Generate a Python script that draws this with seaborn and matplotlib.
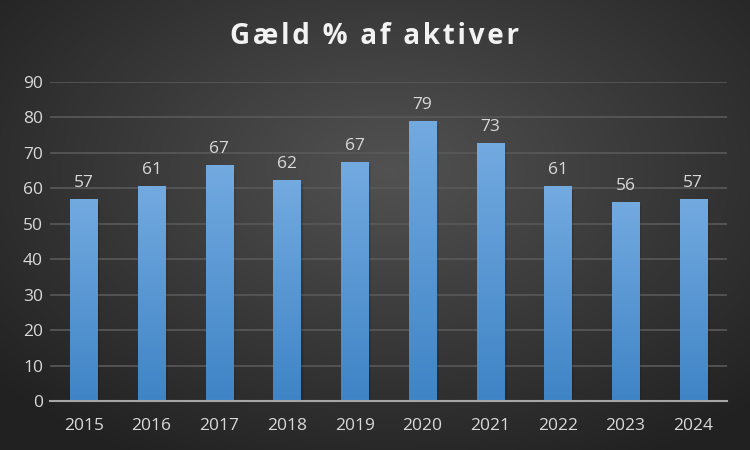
import numpy as np
import pandas as pd
import matplotlib
matplotlib.use("Agg")
import matplotlib.pyplot as plt
import seaborn as sns
from matplotlib.colors import LinearSegmentedColormap

# data
title = "Gæld % af aktiver"
years = ["2015", "2016", "2017", "2018", "2019", "2020", "2021", "2022", "2023", "2024"]
debt_pct = [57.0, 60.7, 66.6, 62.4, 67.4, 79.0, 72.8, 60.7, 56.2, 57.0]
df = pd.DataFrame({"year": years, "pct": debt_pct})

sns.set_theme(style="dark")
plt.rcParams["font.family"] = ["Open Sans", "DejaVu Sans"]

fig = plt.figure(figsize=(7.5, 4.5), dpi=100)

# radial dark background
bg = fig.add_axes([0, 0, 1, 1], zorder=-10)
yy, xx = np.mgrid[0:450, 0:750]
r = np.sqrt(((xx - 390) / 520.0) ** 2 + ((yy - 170) / 330.0) ** 2)
shade = np.clip(0.32 - 0.19 * r, 0.13, 0.32)
bg.imshow(np.dstack([shade] * 3), aspect="auto", extent=[0, 1, 0, 1])
bg.axis("off")

ax = fig.add_axes([0.0667, 0.1089, 0.9026, 0.7089])
ax.set_facecolor("none")
sns.barplot(data=df, x="year", y="pct", width=0.4, color="#5b9bd5", ax=ax, zorder=3)

ax.set_ylim(0, 90)
ax.set_yticks(range(0, 91, 10))
ax.set_xlim(-0.5, len(years) - 0.5)
ax.yaxis.grid(True, color="#595959", linewidth=1.2, zorder=0)
ax.xaxis.grid(False)
for s in ["top", "right", "left"]:
    ax.spines[s].set_visible(False)
ax.spines["bottom"].set_color("#a6a6a6")
ax.spines["bottom"].set_linewidth(1.5)
ax.spines["bottom"].set_zorder(5)
ax.tick_params(axis="both", colors="#d9d9d9", labelsize=12.5, length=0)
ax.tick_params(axis="x", pad=12)
ax.tick_params(axis="y", pad=5)
ax.set_xlabel("")
ax.set_ylabel("")

# vertical gradient fill for each bar
cmap = LinearSegmentedColormap.from_list("bar", ["#3f84c6", "#73aae0"])
grad = np.linspace(0, 1, 256).reshape(-1, 1)
for patch, val in zip(ax.patches, debt_pct):
    x0 = patch.get_x()
    w = patch.get_width()
    # soft shadow
    for k, a in [(0.02, 0.10), (0.045, 0.07)]:
        ax.bar(x0 + w / 2 + k, val - 0.3, width=w, bottom=-0.8, color="black",
               alpha=a, zorder=2, linewidth=0)
    im = ax.imshow(grad, cmap=cmap, origin="lower", aspect="auto",
                   extent=[x0, x0 + w, 0, val], zorder=3)
    im.set_clip_path(patch)
    patch.set_facecolor("none")
    patch.set_edgecolor("none")
    ax.text(x0 + w / 2, val + 2.3, f"{val:.0f}", ha="center", va="bottom",
            color="#d9d9d9", fontsize=12.5, zorder=6)
ax.set_xlim(-0.5, len(years) - 0.5)
ax.set_ylim(0, 90)

spaced = "\u2009 ".join("\u200a".join(word) for word in title.split(" "))
fig.text(0.5, 0.918, spaced, ha="center", va="center", color="#f2f2f2",
         fontsize=20, fontweight="bold")

fig.savefig("out.png", dpi=100)
